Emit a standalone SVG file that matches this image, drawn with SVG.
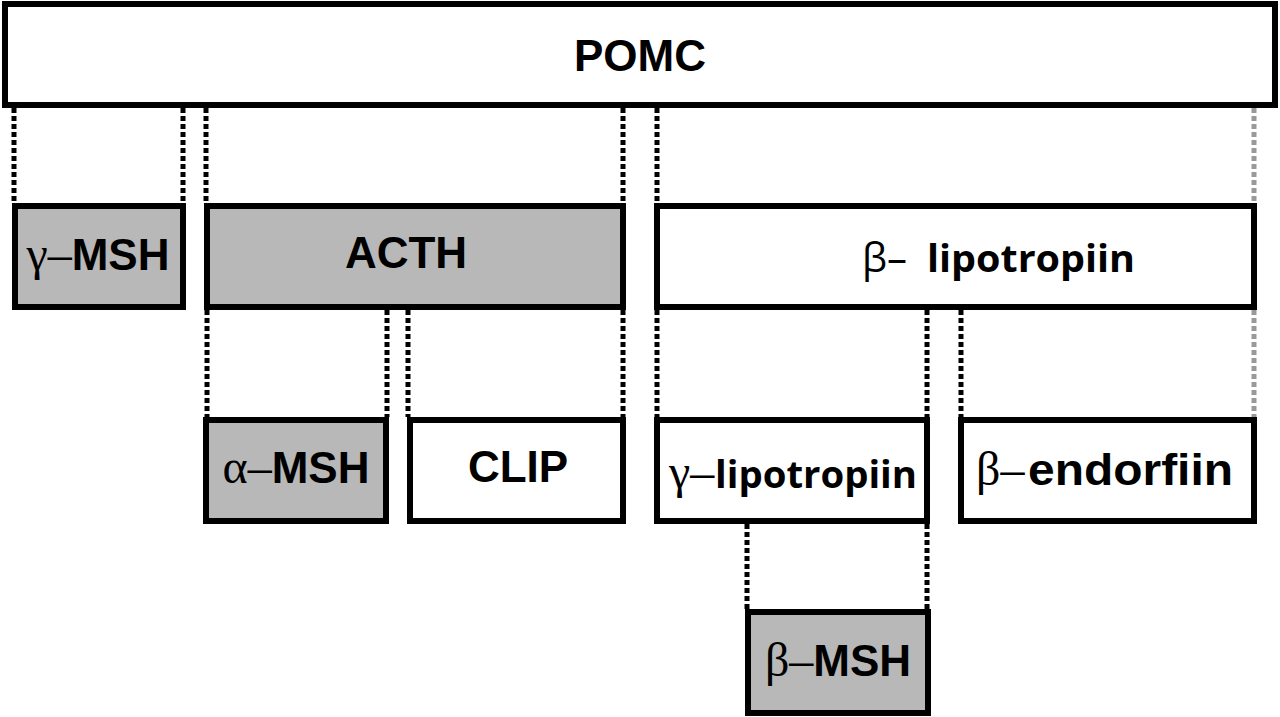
<svg xmlns="http://www.w3.org/2000/svg" width="1280" height="717" viewBox="0 0 1280 717">
<style>
.box{stroke:#000;stroke-width:6;fill:#fff}
.gray{fill:#b8b8b8}
.dot{stroke:#000;stroke-width:5;stroke-dasharray:5 3;fill:none}
.dotg{stroke:#999;stroke-width:5;stroke-dasharray:5 3;fill:none}
.lb{font-family:"Liberation Sans",Arial,sans-serif;font-weight:bold;font-size:44px;fill:#000}
.gr{font-family:"Liberation Serif","Times New Roman",serif;font-size:48px;fill:#000}
.cal{font-family:"Open Sans","Noto Sans",sans-serif;font-weight:bold;font-size:38px;fill:#000}
.calr{font-family:"Open Sans","Noto Sans",sans-serif;font-size:40px;fill:#000}
</style>
<rect width="1280" height="717" fill="#fff"/>
<g id="connectors">
<path class="dot" d="M14 108V203M183 108V203M206 108V203M623 108V203M657 108V203"/>
<path class="dotg" d="M1254 108V203M1254 310V417"/>
<path class="dot" d="M207 310V417M387 310V417M408 310V417M623 310V417M657 310V417M927 310V417M961 310V417"/>
<path class="dot" d="M747 524V609M927 524V609"/>
</g>
<g id="pomc">
<rect class="box" x="5" y="4" width="1270" height="101"/>
<text class="lb" x="640" y="71" text-anchor="middle">POMC</text>
</g>
<g id="gamma-msh">
<rect class="box gray" x="15" y="206" width="168" height="101"/>
<text x="98" y="270" text-anchor="middle"><tspan class="gr">γ–</tspan><tspan class="lb">MSH</tspan></text>
</g>
<g id="acth">
<rect class="box gray" x="207" y="206" width="416" height="101"/>
<text class="lb" x="406" y="268" text-anchor="middle">ACTH</text>
</g>
<g id="beta-lipotropiin">
<rect class="box" x="657" y="206" width="597" height="101"/>
<text class="calr" x="862" y="272">β–</text>
<text class="cal" x="927" y="272" textLength="208" lengthAdjust="spacingAndGlyphs">lipotropiin</text>
</g>
<g id="alpha-msh">
<rect class="box gray" x="206" y="420" width="180" height="101"/>
<text x="296" y="483" text-anchor="middle"><tspan class="gr">α–</tspan><tspan class="lb">MSH</tspan></text>
</g>
<g id="clip">
<rect class="box" x="410" y="420" width="213" height="101"/>
<text class="lb" x="518" y="482" text-anchor="middle">CLIP</text>
</g>
<g id="gamma-lipotropiin">
<rect class="box" x="657" y="420" width="270" height="101"/>
<text class="gr" x="669" y="488">γ–</text>
<text class="cal" x="715" y="488" textLength="202" lengthAdjust="spacingAndGlyphs">lipotropiin</text>
</g>
<g id="beta-endorfiin">
<rect class="box" x="961" y="420" width="293" height="101"/>
<text class="gr" x="976" y="485">β–</text>
<text class="lb" x="1028" y="485" textLength="205" lengthAdjust="spacingAndGlyphs">endorfiin</text>
</g>
<g id="beta-msh">
<rect class="box gray" x="748" y="612" width="180" height="101"/>
<text x="838" y="676" text-anchor="middle"><tspan class="gr">β–</tspan><tspan class="lb">MSH</tspan></text>
</g>
</svg>
